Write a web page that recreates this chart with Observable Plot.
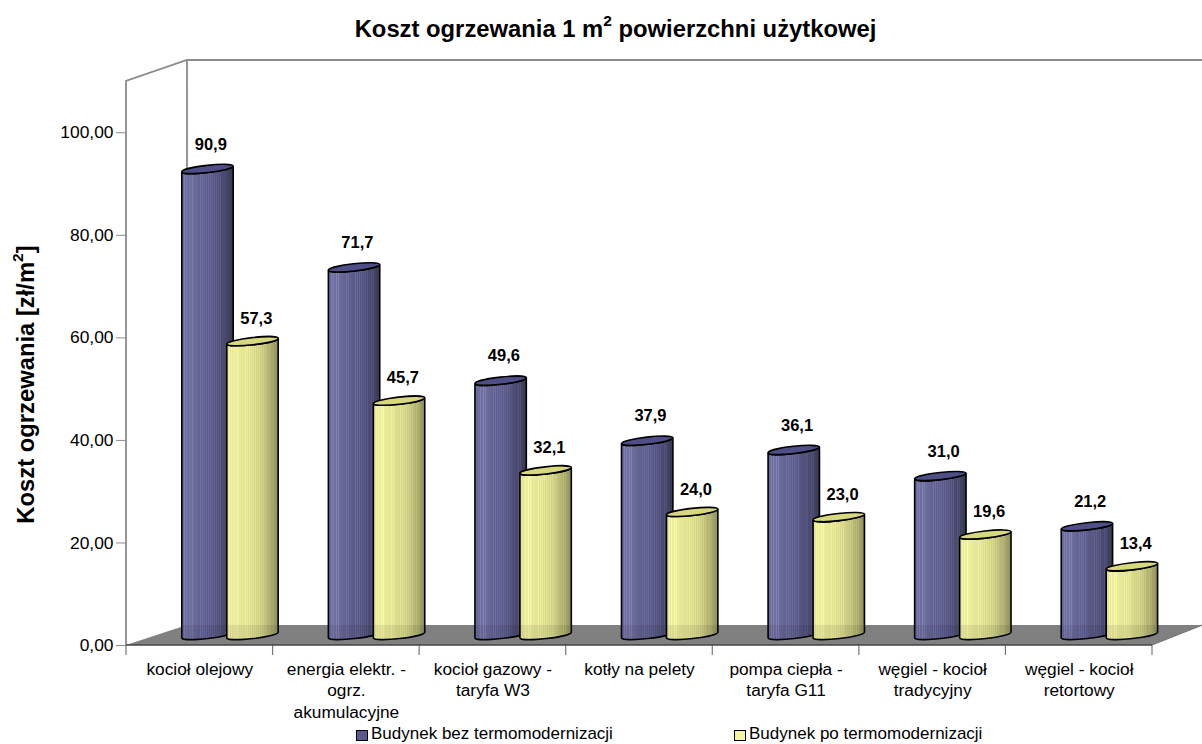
<!DOCTYPE html>
<html lang="pl">
<head>
<meta charset="utf-8">
<script src="https://cdn.jsdelivr.net/npm/d3@7"></script>
<script src="https://cdn.jsdelivr.net/npm/@observablehq/plot@0.6"></script>
<style>
html,body{margin:0;padding:0;background:#fff;overflow:hidden;font-family:"Liberation Sans",Arial,sans-serif;color:#000}
#title{height:50px;box-sizing:border-box;padding-top:15px;padding-left:29px;text-align:center;font-size:23.8px;font-weight:bold;line-height:28px;white-space:nowrap}
#title sup{font-size:15.5px;line-height:0;vertical-align:11px}
#chart svg{display:block}
#legend{position:relative;height:19px;font-size:17px;line-height:20px}
.item{position:absolute;top:-1px;white-space:nowrap}
.sw{position:absolute;top:6px;left:0;width:10px;height:9px;border:1px solid #000}
.item span.t{margin-left:15px}
</style>
</head>
<body>
<div id="title">Koszt ogrzewania 1 m<sup>2</sup> powierzchni użytkowej</div>
<div id="chart"></div>
<div id="legend"></div>
<script>
const categories = ["kocioł olejowy", "energia elektr. -\nogrz.\nakumulacyjne", "kocioł gazowy -\ntaryfa W3", "kotły na pelety", "pompa ciepła -\ntaryfa G11", "węgiel - kocioł\ntradycyjny", "węgiel - kocioł\nretortowy"];
const beforeValues = [90.9, 71.7, 49.6, 37.9, 36.1, 31.0, 21.2];
const afterValues = [57.3, 45.7, 32.1, 24.0, 23.0, 19.6, 13.4];
const valueTicks = [0, 20, 40, 60, 80, 100];
const seriesNames = ["Budynek bez termomodernizacji", "Budynek po termomodernizacji"];

const before = categories.map((c, i) => ({category: c, value: beforeValues[i]}));
const after = categories.map((c, i) => ({category: c, value: afterValues[i]}));
const comma = (d, n) => d.toFixed(n).replace(".", ",");
const SVG = "http://www.w3.org/2000/svg";

const BAR_INSET = 47.6, BAR_LIFT = -10, TILT = 2.9, RY = 3.6, FLOOR_DEPTH_X = 61, FLOOR_DEPTH_Y = 20;

// Shading of the cylinder surface: a base ramp with thin lighter vertical stripes
const stripeOffsets = [.06, .1, .16, .2, .36, .4, .44, .48, .52, .56, .6, .64, .68, .72, .76, .84, .88];
function stripedGradient(id, baseColors, stripeGain) {
  const g = document.createElementNS(SVG, "linearGradient");
  g.setAttribute("id", id);
  const ramp = d3.scaleLinear().domain(baseColors.map(b => b[0])).range(baseColors.map(b => b[1])).interpolate(d3.interpolateRgb);
  const add = (o, c) => {
    const s = document.createElementNS(SVG, "stop");
    s.setAttribute("offset", o);
    s.setAttribute("stop-color", c);
    g.appendChild(s);
  };
  add(0, ramp(0));
  stripeOffsets.forEach(o => {
    add(o - .009, ramp(o));
    add(o - .008, d3.rgb(ramp(o)).brighter(stripeGain).formatHex());
    add(o + .008, d3.rgb(ramp(o)).brighter(stripeGain).formatHex());
    add(o + .009, ramp(o));
  });
  add(1, ramp(1));
  return g;
}
const blueRamp = [[0, "#68689e"], [.15, "#72729f"], [.35, "#626292"], [.6, "#575784"], [.85, "#48486c"], [1, "#36364f"]];
const yellowRamp = [[0, "#e4e496"], [.15, "#eeeea0"], [.4, "#e2e292"], [.65, "#cfcf86"], [.85, "#afaf70"], [1, "#8c8c5a"]];

const defsMark = () => {
  const svg = document.createElementNS(SVG, "defs");
  svg.appendChild(stripedGradient("gb", blueRamp, .4));
  svg.appendChild(stripedGradient("gy", yellowRamp, .15));
  return svg;
};

function cylinder(gradId, topFill) {
  return function (index, scales, values, dimensions, context, next) {
    const g = next(index, scales, values, dimensions, context);
    d3.select(g).selectAll("rect").each(function () {
      const r = d3.select(this);
      const x = +r.attr("x"), w = +r.attr("width"), yT = +r.attr("y"), yB = yT + (+r.attr("height"));
      const a = Math.hypot(w / 2, TILT), rot = -Math.atan2(2 * TILT, w) * 180 / Math.PI;
      const arc = (sweep, ex, ey) => `A${a} ${RY} ${rot} 0 ${sweep} ${ex} ${ey}`;
      const parent = d3.select(this.parentNode);
      parent.append("path")
        .attr("d", `M${x} ${yT + TILT}L${x} ${yB + TILT}${arc(0, x + w, yB - TILT)}L${x + w} ${yT - TILT}${arc(1, x, yT + TILT)}Z`)
        .attr("fill", `url(#${gradId})`).attr("stroke", "#000").attr("stroke-width", 1.6);
      parent.append("path")
        .attr("d", `M${x + .8} ${yB - 10}L${x + .8} ${yB + TILT - .6}${arc(0, x + w - .8, yB - TILT - .6)}L${x + w - .8} ${yB - 10}Z`)
        .attr("fill", "#000").attr("fill-opacity", .08);
      parent.append("path")
        .attr("d", `M${x} ${yT + TILT}${arc(1, x + w, yT - TILT)}${arc(1, x, yT + TILT)}Z`)
        .attr("fill", topFill).attr("stroke", "#000").attr("stroke-width", 1.6);
      r.remove();
    });
    return g;
  };
}

const frame3d = (index, scales, values, dimensions) => {
  const x0 = scales.x(categories[0]);
  const step = scales.x(categories[1]) - x0;
  const x1 = x0 + step * categories.length;
  const y0 = scales.y(0), yTop = scales.y(110);
  const g = d3.create("svg:g");
  g.append("path")
    .attr("d", `M${x0} ${y0}L${x0 + FLOOR_DEPTH_X} ${y0 - FLOOR_DEPTH_Y}L${dimensions.width} ${y0 - FLOOR_DEPTH_Y}L${x1} ${y0}Z`)
    .attr("fill", "#808080");
  g.append("path")
    .attr("d", `M${x0} ${y0}L${x0} ${yTop}L${x0 + FLOOR_DEPTH_X} ${yTop - 21}L${dimensions.width} ${yTop - 21}M${x0 + FLOOR_DEPTH_X} ${yTop - 21}L${x0 + FLOOR_DEPTH_X} ${y0 - FLOOR_DEPTH_Y}`)
    .attr("fill", "none").attr("stroke", "#8c8c8c").attr("stroke-width", 1.8);
  g.append("path")
    .attr("d", d3.range(categories.length + 1).map(i => `M${x0 + i * step} ${y0}L${x0 + i * step} ${y0 + 10}`).join("") + `M${x1} ${y0}L${dimensions.width} ${y0 - FLOOR_DEPTH_Y}`)
    .attr("stroke", "#777").attr("stroke-width", 1.2);
  g.append("path")
    .attr("d", `M${x0} ${y0}L${x1} ${y0}`)
    .attr("stroke", "#444").attr("stroke-width", 1.7);
  return g.node();
};

const chart = Plot.plot({
  width: 1202,
  height: 675,
  marginLeft: 126,
  marginRight: 50,
  marginTop: 31,
  marginBottom: 80,
  style: {fontFamily: "'Liberation Sans', Arial, sans-serif", background: "#fff", color: "#000", overflow: "visible"},
  x: {domain: categories, padding: 0, label: null, type: "band", round: false},
  y: {domain: [0, 110], label: null},
  marks: [
    defsMark,
    frame3d,
    Plot.axisY({ticks: valueTicks, tickSize: 10, tickPadding: 3, fontSize: 17.4, stroke: "#8c8c8c", tickFormat: d => comma(d, 2), label: null}),
    Plot.axisX({tickSize: 0, tickPadding: 14, fontSize: 17.3, lineHeight: 1.25, label: null}),
    Plot.barY(before, {x: "category", y: "value", insetLeft: BAR_INSET, insetRight: BAR_INSET, dx: 8.2, dy: BAR_LIFT, render: cylinder("gb", "#4f4f88")}),
    Plot.barY(after, {x: "category", y: "value", insetLeft: BAR_INSET, insetRight: BAR_INSET, dx: 53.2, dy: BAR_LIFT, render: cylinder("gy", "#d8d87e")}),
    Plot.text(before, {x: "category", y: "value", text: d => comma(d.value, 1), dx: 11, dy: -35, fontSize: 16.5, fontWeight: "bold", fill: "#000"}),
    Plot.text(after, {x: "category", y: "value", text: d => comma(d.value, 1), dx: 56.5, dy: -33, fontSize: 16.5, fontWeight: "bold", fill: "#000"}),
    Plot.text(["Koszt ogrzewania [zł/m²]"], {frameAnchor: "left", dx: -100, dy: 21, rotate: -90, textAnchor: "middle", fontSize: 23.8, fontWeight: "bold", fill: "#000"})
  ]
});
document.getElementById("chart").appendChild(chart);

d3.select(chart).selectAll("text").each(function () {
  const t = this.textContent;
  if (t.includes("²")) {
    const el = d3.select(this);
    el.text("Koszt ogrzewania [zł/m");
    el.append("tspan").attr("dy", -11).attr("font-size", 15.5).text("2");
    el.append("tspan").attr("dy", 11).text("]");
  }
});

const legend = d3.select("#legend");
[[356, "#5a5a90"], [734, "#f6f6a0"]].forEach(([left, color], i) => {
  const item = legend.append("div").attr("class", "item").style("left", left + "px");
  item.append("div").attr("class", "sw").style("background", color);
  item.append("span").attr("class", "t").text(seriesNames[i]);
});
</script>
</body>
</html>
